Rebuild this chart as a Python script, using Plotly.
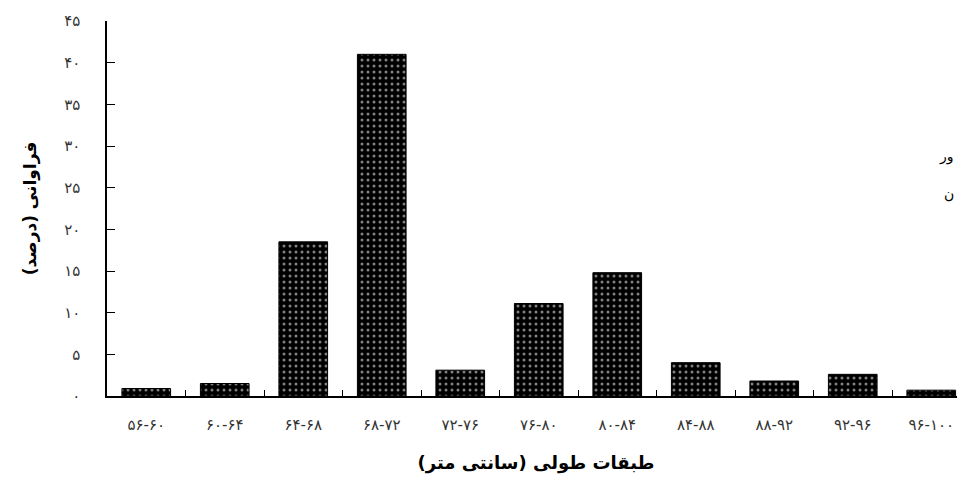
import plotly.graph_objects as go

categories = ["۵۶-۶۰", "۶۰-۶۴", "۶۴-۶۸", "۶۸-۷۲", "۷۲-۷۶", "۷۶-۸۰",
              "۸۰-۸۴", "۸۴-۸۸", "۸۸-۹۲", "۹۲-۹۶", "۹۶-۱۰۰"]
frequency = [0.9, 1.5, 18.5, 41.0, 3.1, 11.1, 14.8, 4.0, 1.8, 2.6, 0.7]
y_tickvals = [0, 5, 10, 15, 20, 25, 30, 35, 40, 45]
y_ticktext = ["۰", "۵", "۱۰", "۱۵", "۲۰", "۲۵", "۳۰", "۳۵", "۴۰", "۴۵"]
x_title = "\u200fطبقات طولی (سانتی متر)\u200f"
y_title = "\u200fفراوانی (درصد)\u200f"
side_texts = ["ور", "ن"]

FONT = "DejaVu Sans"

fig = go.Figure()
fig.add_trace(go.Bar(
    x=categories,
    y=frequency,
    width=0.62,
    marker=dict(
        color="black",
        line=dict(color="black", width=1),
        pattern=dict(shape=".", fgcolor="white", bgcolor="black",
                     size=6, solidity=0.2),
    ),
    showlegend=False,
))

fig.update_layout(
    width=957, height=469,
    margin=dict(l=99, r=0, t=13, b=81),
    paper_bgcolor="white", plot_bgcolor="white",
    font=dict(family=FONT, color="#222"),
    xaxis=dict(
        type="category",
        range=[-0.5, 10.43],
        showline=True, linecolor="black", linewidth=1.5,
        ticks="inside", tickson="boundaries", ticklen=6, tickcolor="black",
        tickfont=dict(family=FONT, size=15, color="#333"),
        ticklabelstandoff=14,
        showgrid=False, zeroline=False,
        title=dict(text=x_title, font=dict(family=FONT, size=18, color="black", weight="bold"),
                   standoff=24),
    ),
    yaxis=dict(
        range=[0, 45],
        tickvals=y_tickvals, ticktext=y_ticktext,
        showline=True, linecolor="black", linewidth=1.5,
        ticks="inside", ticklen=8, tickcolor="black",
        tickfont=dict(family=FONT, size=15, color="#333"),
        ticklabelstandoff=22,
        showgrid=False, zeroline=False,
        title=dict(text=y_title, font=dict(family=FONT, size=17, color="black", weight="bold"),
                   standoff=23),
    ),
    annotations=[
        dict(text=side_texts[0], xref="paper", yref="paper", x=0.99, y=(388 - 148) / 375,
             xanchor="right", yanchor="middle", showarrow=False,
             font=dict(family=FONT, size=14, color="black")),
        dict(text=side_texts[1], xref="paper", yref="paper", x=0.99, y=(388 - 186) / 375,
             xanchor="right", yanchor="middle", showarrow=False,
             font=dict(family=FONT, size=14, color="black")),
    ],
)

fig.write_html("out.html")
